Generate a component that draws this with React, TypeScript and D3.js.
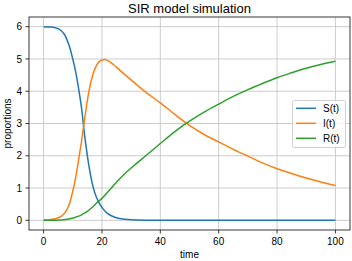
import React from 'react';
import * as d3 from 'd3';

const times = [0, 2, 4, 6, 7, 8, 9, 10, 11, 12, 13, 14, 15, 16, 17, 18, 19, 20, 21, 22, 24, 26, 28, 30, 35, 40, 45, 50, 55, 60, 65, 70, 75, 80, 85, 90, 95, 100];
const sValues = [6.0, 5.99, 5.97, 5.88, 5.78, 5.6, 5.35, 5.0, 4.6, 4.08, 3.48, 2.68, 2.0, 1.45, 1.02, 0.74, 0.55, 0.4, 0.29, 0.21, 0.11, 0.055, 0.03, 0.015, 0.004, 0.001, 0, 0, 0, 0, 0, 0, 0, 0, 0, 0, 0, 0];
const iValues = [0.01, 0.02, 0.05, 0.12, 0.2, 0.33, 0.55, 0.9, 1.33, 1.87, 2.45, 3.1, 3.72, 4.2, 4.55, 4.78, 4.91, 4.97, 4.98, 4.95, 4.82, 4.66, 4.5, 4.35, 3.97, 3.64, 3.28, 2.94, 2.66, 2.43, 2.2, 1.99, 1.78, 1.6, 1.45, 1.31, 1.19, 1.08];
const rValues = [0.0, 0.001, 0.004, 0.01, 0.02, 0.03, 0.05, 0.07, 0.1, 0.13, 0.17, 0.22, 0.28, 0.35, 0.43, 0.52, 0.6, 0.68, 0.78, 0.88, 1.08, 1.28, 1.46, 1.62, 2.0, 2.38, 2.75, 3.07, 3.35, 3.6, 3.84, 4.05, 4.24, 4.42, 4.57, 4.71, 4.83, 4.93];
const xTicks = [0, 20, 40, 60, 80, 100];
const yTicks = [0, 1, 2, 3, 4, 5, 6];
const seriesNames = ['S(t)', 'I(t)', 'R(t)'];
const seriesColors = ['#1f77b4', '#ff7f0e', '#2ca02c'];
const titleText = 'SIR model simulation';
const xLabel = 'time';
const yLabel = 'proportions';

const FONT = '"Liberation Sans", Arial, Helvetica, sans-serif';

export default function App() {
  const W = 352;
  const H = 261;
  const left = 29;
  const right = 350;
  const top = 17;
  const bottom = 230;
  const x = d3.scaleLinear().domain([-5, 105]).range([left, right]);
  const y = d3.scaleLinear().domain([-0.3, 6.3]).range([bottom, top]);
  const series = [sValues, iValues, rValues];
  const line = d3
    .line<[number, number]>()
    .x((d) => x(d[0]))
    .y((d) => y(d[1]))
    .curve(d3.curveMonotoneX);

  const legendX = 292.5;
  const legendY = 100.5;
  const legendW = 53;
  const legendH = 47;

  return (
    <div style={{ position: 'absolute', left: 0, top: 0, width: W, height: H, background: '#fff' }}>
      <svg width={W} height={H} style={{ display: 'block' }} fontFamily={FONT}>
        <rect x={0} y={0} width={W} height={H} fill="#fff" />
        {/* grid */}
        <g stroke="#cccccc" strokeWidth={1}>
          {xTicks.map((t) => (
            <line key={'gx' + t} x1={x(t)} x2={x(t)} y1={top} y2={bottom} />
          ))}
          {yTicks.map((t) => (
            <line key={'gy' + t} x1={left} x2={right} y1={y(t)} y2={y(t)} />
          ))}
        </g>
        {/* series */}
        <g fill="none" strokeWidth={1.5} strokeLinejoin="round" strokeLinecap="butt">
          {series.map((vals, k) => (
            <path
              key={seriesNames[k]}
              d={line(times.map((t, i) => [t, vals[i]] as [number, number])) || ''}
              stroke={seriesColors[k]}
            />
          ))}
        </g>
        {/* spines */}
        <rect x={left} y={top} width={right - left} height={bottom - top} fill="none" stroke="#222" strokeWidth={0.9} />
        {/* x ticks */}
        <g>
          {xTicks.map((t) => (
            <g key={'xt' + t}>
              <line x1={x(t)} x2={x(t)} y1={bottom} y2={bottom + 3.5} stroke="#222" strokeWidth={0.9} />
              <text x={x(t)} y={245} textAnchor="middle" fontSize={10} fill="#000">
                {t}
              </text>
            </g>
          ))}
        </g>
        {/* y ticks */}
        <g>
          {yTicks.map((t) => (
            <g key={'yt' + t}>
              <line x1={left - 3.5} x2={left} y1={y(t)} y2={y(t)} stroke="#222" strokeWidth={0.9} />
              <text x={22} y={y(t) + 3.6} textAnchor="end" fontSize={10} fill="#000">
                {t}
              </text>
            </g>
          ))}
        </g>
        {/* labels */}
        <text x={(left + right) / 2} y={257.5} textAnchor="middle" fontSize={10} fill="#000">
          {xLabel}
        </text>
        <text
          transform={`translate(11,${(top + bottom) / 2}) rotate(-90)`}
          textAnchor="middle"
          fontSize={10}
          fill="#000"
        >
          {yLabel}
        </text>
        <text x={(left + right) / 2} y={12.5} textAnchor="middle" fontSize={13} fill="#000">
          {titleText}
        </text>
        {/* legend */}
        <g>
          <rect
            x={legendX}
            y={legendY}
            width={legendW}
            height={legendH}
            rx={2}
            ry={2}
            fill="#fff"
            fillOpacity={0.8}
            stroke="#cccccc"
            strokeWidth={0.9}
          />
          {seriesNames.map((name, k) => {
            const ly = 108.3 + k * 15;
            return (
              <g key={'lg' + name}>
                <line x1={296} x2={316} y1={ly} y2={ly} stroke={seriesColors[k]} strokeWidth={1.5} />
                <text x={323} y={ly + 3.6} fontSize={10} fill="#000">
                  {name}
                </text>
              </g>
            );
          })}
        </g>
      </svg>
    </div>
  );
}
